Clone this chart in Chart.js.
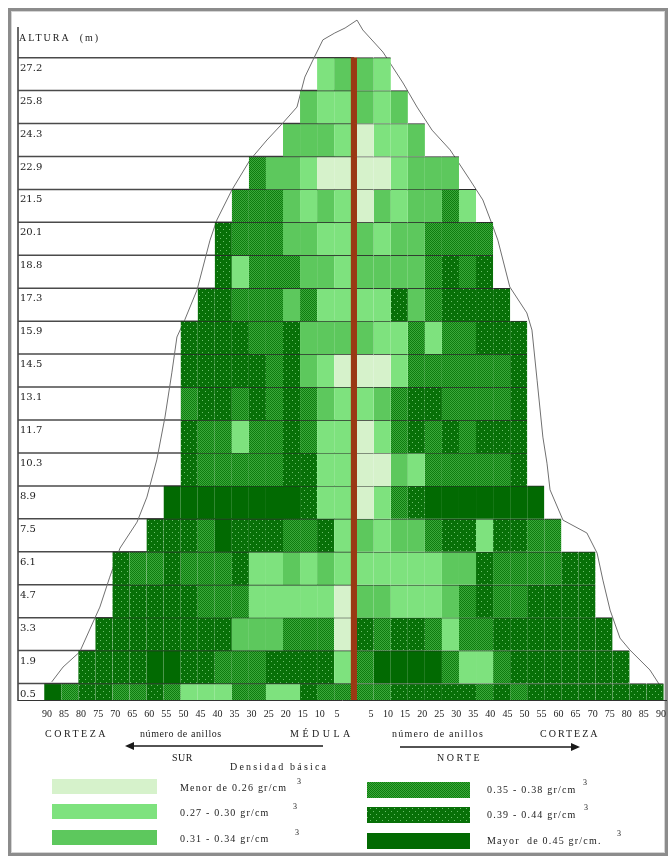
<!DOCTYPE html>
<html lang="es">
<head>
<meta charset="UTF-8">
<title>Densidad básica por altura</title>
<script src="https://cdn.jsdelivr.net/npm/chart.js"></script>
<style>
  body { margin: 0; background: #fff; }
  #frame { position: absolute; left: 8px; top: 8px; width: 654px; height: 842px; border: 3px solid #8c8c8c; box-shadow: inset 0 0 0 1px #d4d4d4; }
  #stem { position: absolute; left: 0; top: 0; }
</style>
</head>
<body>
<div id="frame"></div>
<canvas id="stem" width="670" height="857"></canvas>
<script>
// altura de cada troza (m), de abajo hacia arriba
const heights = ['0.5', '1.9', '3.3', '4.7', '6.1', '7.5', '8.9', '10.3', '11.7', '13.1',
                 '14.5', '15.9', '17.3', '18.8', '20.1', '21.5', '22.9', '24.3', '25.8', '27.2'];

// clase de densidad por grupo de 5 anillos, desde la médula hacia la corteza
// 1 = <0.26, 2 = 0.27-0.30, 3 = 0.31-0.34, 4 = 0.35-0.38, 5 = 0.39-0.44, 6 = >0.45
const sur = [
  [4,4,5,2,2,4,4,2,2,2,4,5,4,4,5,5,4,6],
  [2,5,5,5,5,4,4,4,5,5,6,6,5,5,5,5],
  [1,4,4,4,3,3,3,5,5,5,5,5,5,5,5],
  [1,2,2,2,2,2,4,4,4,5,5,5,5,5],
  [2,3,2,3,2,2,5,4,4,4,5,4,4,5],
  [2,5,4,4,5,5,5,6,4,5,5,5],
  [2,2,5,6,6,6,6,6,6,6,6],
  [2,2,5,5,4,4,4,4,4,5],
  [2,2,4,5,4,4,2,4,4,5],
  [2,3,4,5,4,5,4,5,5,4],
  [1,2,3,5,4,5,5,5,5,5],
  [3,3,3,5,4,4,5,5,5,5],
  [2,2,4,3,4,4,4,5,5],
  [2,3,3,4,4,4,2,5],
  [2,2,3,3,4,4,4,5],
  [2,3,2,3,4,4,4],
  [1,1,2,3,3,4],
  [2,3,3,3],
  [2,2,3],
  [3,2]
];
const norte = [
  [4,4,5,5,5,5,5,4,5,4,5,5,5,5,5,5,5,5],
  [4,6,6,6,6,4,2,2,4,5,5,5,5,5,5,5],
  [5,4,5,5,4,2,4,4,5,5,5,5,5,5,5],
  [3,3,2,2,2,3,4,5,4,4,5,5,5,5],
  [2,2,2,2,2,3,3,5,4,4,4,4,5,5],
  [3,2,3,3,4,5,5,2,5,5,4,4],
  [1,2,4,5,6,6,6,6,6,6,6],
  [1,1,3,2,4,4,4,4,4,5],
  [1,2,4,5,4,5,4,5,5,5],
  [2,3,4,5,5,4,4,4,4,5],
  [1,1,2,4,4,4,4,4,4,5],
  [3,2,2,4,2,4,4,5,5,5],
  [2,2,5,3,4,5,5,5,5],
  [3,3,3,3,4,5,4,5],
  [3,2,3,3,4,4,4,4],
  [1,3,2,3,3,4,2],
  [1,1,2,3,3,3],
  [1,2,2,3],
  [3,2,3],
  [3,2]
];

// número de anillos en el eje horizontal (sur negativo, norte positivo)
const ringTicks = [-90,-85,-80,-75,-70,-65,-60,-55,-50,-45,-40,-35,-30,-25,-20,-15,-10,-5,
                   5,10,15,20,25,30,35,40,45,50,55,60,65,70,75,80,85,90];

// contorno del fuste (anillos, posición de troza)
const outlineX = [-88.6,-85.3,-80.4,-76.6,-74.5,-71.6,-68.6,-63.6,-60.7,-57.8,-55.4,-53.4,-51.9,-49.6,
  -46.0,-42.2,-40.2,-35.8,-30.5,-25.5,-20.8,-16.7,-14.4,-12.0,-9.1,-5.6,-2.6,0.9,
  2.6,8.5,14.4,18.5,22.9,28.2,34.0,37.8,40.8,42.2,45.7,50.7,52.2,53.7,55.4,56.6,57.5,
  61.3,68.3,71.3,73.0,75.1,78.0,80.9,86.8,90.6];
const outlineY = [0.55,1.00,1.46,2.34,2.82,3.73,4.61,5.40,6.16,7.29,8.59,9.93,11.02,11.54,
  12.45,13.96,14.57,15.48,16.39,17.00,17.52,18.00,18.91,19.43,20.04,20.25,20.40,20.64,
  20.34,19.67,18.73,18.00,17.30,16.70,15.79,15.18,14.36,13.96,12.54,11.75,11.23,9.71,7.98,7.19,6.38,
  5.46,5.07,4.46,3.64,2.73,1.88,1.52,0.91,0.30];

const densityLabels = ['Menor de 0.26 gr/cm', '0.27 - 0.30 gr/cm', '0.31 - 0.34 gr/cm',
                       '0.35 - 0.38 gr/cm', '0.39 - 0.44 gr/cm', 'Mayor  de 0.45 gr/cm.'];

const RING_STEP = 5;   // anillos por grupo
const PITH = 0.8;      // medio ancho de la médula

// tramas de relleno
function tile(size, base, dot, cells) {
  const c = document.createElement('canvas');
  c.width = size; c.height = size;
  const g = c.getContext('2d');
  g.fillStyle = base; g.fillRect(0, 0, size, size);
  g.fillStyle = dot;
  cells.forEach(([x, y]) => g.fillRect(x, y, 1, 1));
  return g.createPattern(c, 'repeat');
}
const fills = {
  1: '#d6f2cb',
  2: '#7ee27e',
  3: '#5dc85d',
  4: tile(2, '#3aa83a', '#0f7c0f', [[0, 0], [1, 1]]),
  5: tile(6, '#087008', '#6cbf6c', [[1, 1], [4, 4]]),
  6: '#026a02'
};

const datasets = [];
[-1, 1].forEach(sign => {
  datasets.push({
    type: 'bar', stack: 'tronco',
    data: heights.map((h, i) => ({ x: sign * PITH, y: i })),
    backgroundColor: '#9a3914', borderWidth: 0, clip: 0,
    barPercentage: 1, categoryPercentage: 1
  });
});
const segCount = Math.max(...sur.map(r => r.length), ...norte.map(r => r.length));
for (let k = 0; k < segCount; k++) {
  [[sur, -1], [norte, 1]].forEach(([side, sign]) => {
    const pts = [];
    side.forEach((row, i) => {
      if (k < row.length) pts.push({ x: sign * RING_STEP, y: i, c: row[k] });
    });
    datasets.push({
      type: 'bar', stack: 'tronco', data: pts,
      backgroundColor: c => c.raw ? fills[c.raw.c] : fills[1],
      borderColor: '#2b2b2b',
      borderWidth: { top: 1, right: 0, bottom: 0, left: 0 },
      borderSkipped: false, clip: 0,
      barPercentage: 1, categoryPercentage: 1
    });
  });
}
datasets.push({
  type: 'line',
  data: outlineX.map((v, i) => ({ x: v, y: outlineY[i] })),
  borderColor: '#707070', borderWidth: 1, pointRadius: 0,
  fill: false, tension: 0, clip: false
});

function label(ctx, s, x, y, spacing, align, size) {
  ctx.font = (size || 10) + 'px "Liberation Serif"';
  ctx.letterSpacing = (spacing || 0) + 'px';
  ctx.textAlign = align || 'left';
  ctx.textBaseline = 'middle';
  ctx.fillStyle = '#1a1a1a';
  ctx.fillText(s, x, y);
}

function arrow(ctx, from, to, y) {
  const dir = Math.sign(to - from);
  ctx.strokeStyle = '#1a1a1a'; ctx.fillStyle = '#1a1a1a'; ctx.lineWidth = 1.5;
  ctx.beginPath(); ctx.moveTo(from, y); ctx.lineTo(to - dir * 7, y); ctx.stroke();
  ctx.beginPath(); ctx.moveTo(to, y); ctx.lineTo(to - dir * 9, y - 4); ctx.lineTo(to - dir * 9, y + 4); ctx.closePath(); ctx.fill();
}

const decor = {
  id: 'decor',
  beforeDatasetsDraw(chart) {
    const { ctx, chartArea, scales: { x, y } } = chart;
    const pithX = x.getPixelForValue(0);
    ctx.save();
    ctx.strokeStyle = '#4a4a4a'; ctx.lineWidth = 1.5;
    heights.forEach((h, i) => {
      const py = y.getPixelForValue(i + 0.5);
      ctx.beginPath(); ctx.moveTo(chartArea.left, py); ctx.lineTo(pithX, py); ctx.stroke();
    });
    ctx.restore();
  },
  afterDraw(chart) {
    const ctx = chart.ctx;
    ctx.save();
    label(ctx, 'ALTURA  (m)', 19, 38, 2);
    // rótulos bajo el eje
    label(ctx, 'CORTEZA', 45, 734, 2.5);
    label(ctx, 'número de anillos', 140, 734, 0.6);
    label(ctx, 'MÉDULA', 290, 734, 3.5);
    label(ctx, 'número de anillos', 392, 734, 1.2);
    label(ctx, 'CORTEZA', 540, 734, 2);
    arrow(ctx, 323, 125, 746);
    arrow(ctx, 400, 580, 747);
    label(ctx, 'SUR', 172, 758, 0.5);
    label(ctx, 'NORTE', 437, 758, 2.5);
    label(ctx, 'Densidad básica', 230, 767, 2.2);
    // leyenda
    const cols = [
      { box: 52, w: 105, text: 180, rows: [779, 804, 830], h: 15, sup: [297, 293, 295], dy: 2 },
      { box: 367, w: 103, text: 487, rows: [782, 807, 833], h: 16, sup: [583, 584, 617], dy: 0 }
    ];
    cols.forEach((col, ci) => {
      col.rows.forEach((top, ri) => {
        const cls = ci * 3 + ri + 1;
        ctx.fillStyle = fills[cls];
        ctx.fillRect(col.box, top, col.w, col.h);
        const cy = top + col.h / 2 + col.dy;
        label(ctx, densityLabels[cls - 1], col.text, cy, 1.2);
        label(ctx, '3', col.sup[ri], cy - 7, 0, 'left', 8);
      });
    });
    ctx.restore();
  }
};

new Chart(document.getElementById('stem'), {
  type: 'bar',
  data: { datasets },
  options: {
    indexAxis: 'y',
    responsive: false,
    animation: false,
    layout: { padding: { left: 14, top: 28, right: 4, bottom: 129 } },
    plugins: { legend: { display: false }, tooltip: { enabled: false } },
    scales: {
      x: {
        type: 'linear', stacked: true, offset: false, min: -98.5, max: 91.5,
        grid: { display: false, drawTicks: false },
        border: { display: true, color: '#333', width: 1, z: 1 },
        afterBuildTicks: s => { s.ticks = ringTicks.map(v => ({ value: v })); },
        ticks: {
          autoSkip: false, maxRotation: 0, padding: 3, color: '#222',
          font: { family: 'Liberation Serif', size: 10, lineHeight: 2.2 },
          callback: v => Math.abs(v)
        }
      },
      y: {
        type: 'linear', stacked: true, offset: false, min: 0, max: 20.4,
        grid: { display: false, drawTicks: false, offset: false },
        border: { display: true, color: '#6a6a6a', width: 2 },
        afterBuildTicks: s => { s.ticks = heights.map((h, i) => ({ value: i })); },
        ticks: {
          mirror: true, padding: 2, labelOffset: -6, color: '#222',
          font: { family: 'DejaVu Serif', size: 10 },
          callback: v => heights[v]
        }
      }
    }
  },
  plugins: [decor]
});
</script>
</body>
</html>
